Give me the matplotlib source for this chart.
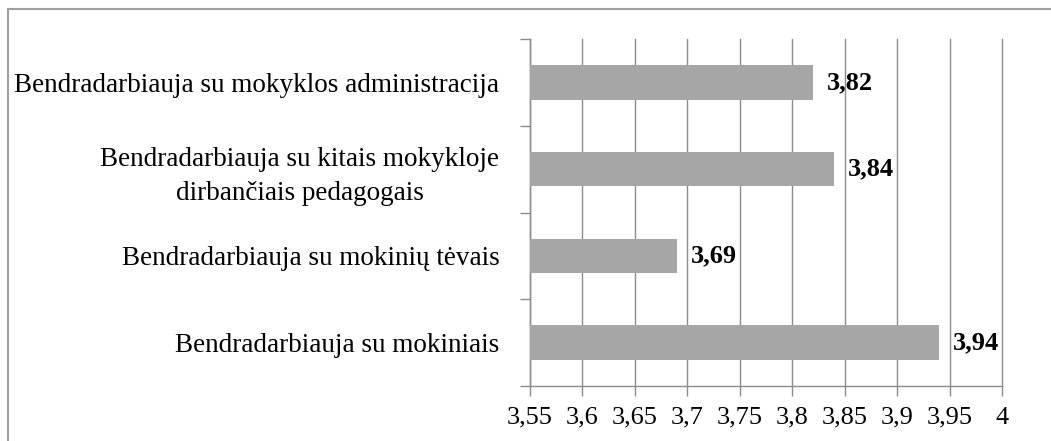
import matplotlib.pyplot as plt
from matplotlib.patches import Rectangle
import numpy as np

plt.rcParams['font.family'] = ['Liberation Serif', 'DejaVu Serif']

categories = ['Bendradarbiauja su mokiniais',
              'Bendradarbiauja su mokinių tėvais',
              'Bendradarbiauja su kitais mokykloje\ndirbančiais pedagogais',
              'Bendradarbiauja su mokyklos administracija']
values = [3.94, 3.69, 3.84, 3.82]
xticks = [3.55, 3.6, 3.65, 3.7, 3.75, 3.8, 3.85, 3.9, 3.95, 4.0]

fig = plt.figure(figsize=(10.51, 4.41), dpi=100)
ax = fig.add_axes([530/1051, 1-386/441, 472/1051, 347/441])

grey = '#8c8c8c'
y = np.arange(len(categories))
ax.barh(y, values, height=0.4, color='#a6a6a6', zorder=3)
for yi, v in zip(y, values):
    ax.text(v + 0.013, yi, f'{v:.2f}'.replace('.', ','), va='center', ha='left',
            fontsize=19, fontweight='bold', zorder=4)

ax.set_xlim(3.55, 4.0)
ax.set_ylim(-0.5, len(categories) - 0.5)
ax.set_xticks(xticks)
ax.set_xticklabels([f'{t:g}'.replace('.', ',') for t in xticks], fontsize=19)
ax.set_yticks(y)
ax.set_yticklabels(categories, fontsize=19.5, multialignment='center', linespacing=1.45)
ax.set_yticks(np.arange(-0.5, len(categories)), minor=True)
ax.tick_params(axis='y', which='major', length=0, pad=22)
ax.tick_params(axis='y', which='minor', length=7, color=grey, width=1)
ax.tick_params(axis='x', length=7, color=grey, width=1, pad=8)
ax.grid(axis='x', color=grey, linewidth=1, zorder=0)
for gl in ax.get_xgridlines():
    gl.set_clip_on(False)

for s in ['top', 'right']:
    ax.spines[s].set_visible(False)
for s in ['left', 'bottom']:
    ax.spines[s].set_color(grey)
    ax.spines[s].set_linewidth(1)

fig.patches.append(Rectangle((8/1051, -0.1), 1.2, 1 - 9/441 + 0.1, transform=fig.transFigure,
                             fill=False, edgecolor='#a0a0a0', linewidth=1.5))

fig.savefig('out.png', dpi=100)
